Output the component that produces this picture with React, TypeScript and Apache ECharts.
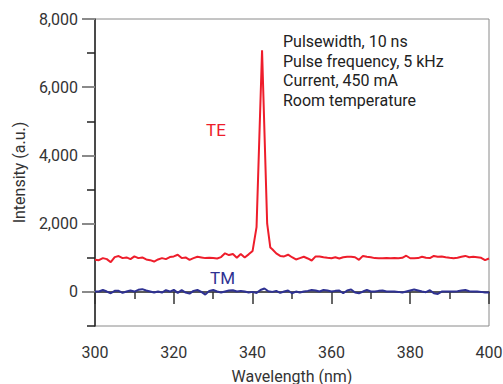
import React, { useEffect, useRef } from "react";
import * as echarts from "echarts";

const teWavelengths = [
  300, 301, 302, 303, 304, 305, 306, 307, 308, 309, 310, 311, 312, 313, 314, 315, 316, 317, 318, 319,
  320, 321, 322, 323, 324, 325, 326, 327, 328, 329, 330, 331, 332, 333, 334, 335, 336, 337, 338, 339,
  340, 341, 342.4, 343.7, 344.5, 345, 346, 347, 348, 349, 350, 351, 352, 353, 354, 355, 356, 357, 358, 359,
  360, 361, 362, 363, 364, 365, 366, 367, 368, 369, 370, 371, 372, 373, 374, 375, 376, 377, 378, 379,
  380, 381, 382, 383, 384, 385, 386, 387, 388, 389, 390, 391, 392, 393, 394, 395, 396, 397, 398, 399, 400,
];
const teValues = [
  940, 930, 990, 960, 870, 1020, 1050, 990, 1010, 960, 1040, 990, 1010, 950, 930, 890, 950, 990, 960, 1020,
  1040, 1090, 990, 1010, 940, 990, 1030, 1010, 990, 1000, 990, 980, 1020, 1130, 1080, 1110, 1000, 1110, 1010, 1100,
  1200, 1900, 7080, 2000, 1300, 1250, 1130, 1055, 1040, 1090, 1016, 950, 990, 1030, 980, 920, 1040, 1040, 1016, 1000,
  986, 1016, 980, 1016, 1030, 1030, 1016, 940, 1055, 1030, 1016, 990, 986, 986, 990, 986, 990, 986, 1000, 1060,
  986, 986, 990, 1030, 1000, 990, 1055, 1030, 1040, 1016, 1000, 986, 1000, 1030, 1055, 1016, 1030, 1016, 1000, 930, 980,
];

const tmWavelengths = [
  300, 301, 302, 303, 304, 305, 306, 307, 308, 309, 310, 311, 312, 313, 314, 315, 316, 317, 318, 319,
  320, 321, 322, 323, 324, 325, 326, 327, 328, 329, 330, 331, 332, 333, 334, 335, 336, 337, 338, 339,
  340, 341, 342, 343, 344, 345, 346, 347, 348, 349, 350, 351, 352, 353, 354, 355, 356, 357, 358, 359,
  360, 361, 362, 363, 364, 365, 366, 367, 368, 369, 370, 371, 372, 373, 374, 375, 376, 377, 378, 379,
  380, 381, 382, 383, 384, 385, 386, 387, 388, 389, 390, 391, 392, 393, 394, 395, 396, 397, 398, 399, 400,
];
const tmValues = [
  10, 10, 55, 10, -40, 30, 30, -30, 10, 40, 10, 60, 80, 40, 10, -20, 10, -20, 50, 10,
  60, -30, 50, -20, -50, 30, 55, 0, -80, 30, 55, 10, -20, 10, 40, 50, 10, 30, 10, -20,
  0, -30, 55, 100, 20, 0, 30, -30, 10, 40, -40, 10, -20, 10, 30, 55, 40, 10, 55, 40,
  10, 30, 40, -40, 40, 70, -20, -40, 10, 55, 10, 10, 30, 40, 10, 10, 10, 0, -20, 10,
  40, 70, 40, 10, -10, 50, -40, -60, 10, 10, 10, 10, 20, 40, 55, 20, 10, 10, 0, -20, -20,
];

const yMajorTicks = [0, 2000, 4000, 6000, 8000];
const yMinorTicks = [-1000, 1000, 3000, 5000, 7000];
const xMajorTicks = [300, 320, 340, 360, 380, 400];
const xMinorTicks = [310, 330, 350, 370, 390];

const annotationLines = ["Pulsewidth, 10 ns", "Pulse frequency, 5 kHz", "Current, 450 mA", "Room temperature"];

const FONT = "Roboto, 'Liberation Sans', sans-serif";
const TE_COLOR = "#ee1d2b";
const TM_COLOR = "#2e3192";

export default function App() {
  const ref = useRef<HTMLDivElement>(null);
  useEffect(() => {
    if (!ref.current) return;
    const chart = echarts.init(ref.current, null, { renderer: "svg" });
    const fmt = (v: number) => v.toLocaleString("en-US");
    chart.setOption({
      animation: false,
      textStyle: { fontFamily: FONT },
      grid: {
        left: 95,
        right: 14,
        top: 19,
        bottom: 58,
        outerBoundsMode: "none",
        containLabel: false,
        show: true,
        borderColor: "#8a8a8a",
        borderWidth: 1,
        backgroundColor: "transparent",
      },
      xAxis: [
        {
          type: "value",
          min: 300,
          max: 400,
          interval: 10,
          name: "Wavelength (nm)",
          nameLocation: "middle",
          nameGap: 42,
          nameTextStyle: { color: "#333", fontSize: 16, fontFamily: FONT },
          axisLine: { show: true, lineStyle: { color: "#222", width: 1.5 } },
          axisTick: { show: true, customValues: xMajorTicks, length: 12, lineStyle: { color: "#333", width: 1.5 } },
          axisLabel: {
            customValues: xMajorTicks,
            formatter: (v: number) => String(v),
            color: "#333",
            fontSize: 16,
            fontFamily: FONT,
            margin: 18,
          },
          splitLine: { show: false },
        },
        {
          type: "value",
          min: 300,
          max: 400,
          interval: 10,
          position: "bottom",
          axisLine: { show: false },
          axisTick: { show: true, customValues: xMinorTicks, length: 7, lineStyle: { color: "#333", width: 1.5 } },
          axisLabel: { show: false },
          splitLine: { show: false },
        },
      ],
      yAxis: [
        {
          type: "value",
          min: -1000,
          max: 8000,
          interval: 1000,
          name: "Intensity (a.u.)",
          nameLocation: "middle",
          nameGap: 66,
          nameTextStyle: { color: "#333", fontSize: 16, fontFamily: FONT },
          axisLine: { show: true, lineStyle: { color: "#222", width: 1.5 } },
          axisTick: { show: true, customValues: yMajorTicks, length: 13, lineStyle: { color: "#8a8a8a", width: 2 } },
          axisLabel: {
            customValues: yMajorTicks,
            formatter: fmt,
            color: "#333",
            fontSize: 16,
            fontFamily: FONT,
            margin: 17,
          },
          splitLine: { show: false },
        },
        {
          type: "value",
          min: -1000,
          max: 8000,
          interval: 1000,
          position: "left",
          axisLine: { show: false },
          axisTick: { show: true, customValues: yMinorTicks, length: 8, lineStyle: { color: "#222", width: 1.5 } },
          axisLabel: { show: false },
          splitLine: { show: false },
        },
      ],
      series: [
        {
          name: "TE",
          type: "line",
          data: teWavelengths.map((w, i) => [w, teValues[i]]),
          symbol: "none",
          lineStyle: { color: TE_COLOR, width: 2 },
          z: 3,
        },
        {
          name: "TM",
          type: "line",
          data: tmWavelengths.map((w, i) => [w, tmValues[i]]),
          symbol: "none",
          lineStyle: { color: TM_COLOR, width: 2 },
          z: 3,
        },
      ],
      graphic: [
        {
          type: "text",
          left: 283,
          top: 32,
          style: {
            text: annotationLines.join("\n"),
            fill: "#222",
            fontSize: 16,
            lineHeight: 19.5,
            fontFamily: FONT,
          },
        },
        {
          type: "text",
          left: 206,
          top: 121,
          style: { text: "TE", fill: TE_COLOR, fontSize: 17, fontFamily: FONT },
        },
        {
          type: "text",
          left: 210,
          top: 269,
          style: { text: "TM", fill: TM_COLOR, fontSize: 17, fontFamily: FONT },
        },
      ],
    });
    return () => chart.dispose();
  }, []);
  return <div ref={ref} style={{ width: 503, height: 384, position: "absolute", left: 0, top: 0 }} />;
}
